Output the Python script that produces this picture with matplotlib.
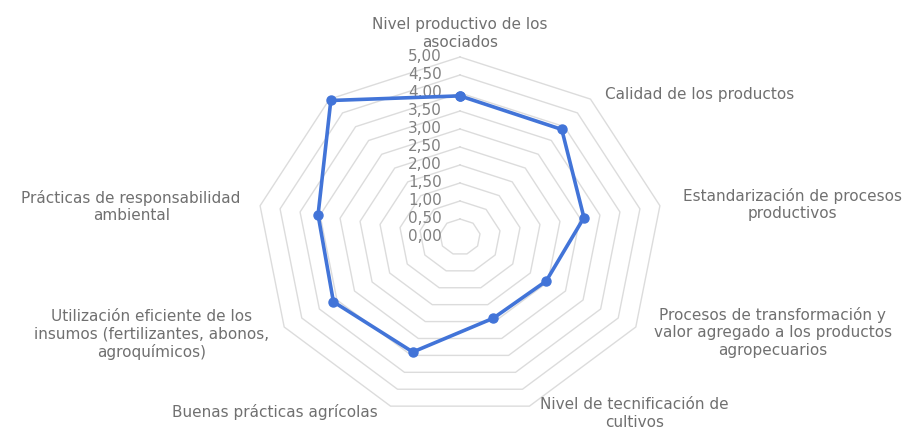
import numpy as np
import matplotlib
matplotlib.use("Agg")
import matplotlib.pyplot as plt

categories = [
    "Nivel productivo de los\nasociados",
    "Calidad de los productos",
    "Estandarización de procesos\nproductivos",
    "Procesos de transformación y\nvalor agregado a los productos\nagropecuarios",
    "Nivel de tecnificación de\ncultivos",
    "Buenas prácticas agrícolas",
    "Utilización eficiente de los\ninsumos (fertilizantes, abonos,\nagroquímicos)",
    "Prácticas de responsabilidad\nambiental",
    "",
]
values = [3.92, 3.90, 3.10, 2.45, 2.40, 3.40, 3.60, 3.55, 4.95]
tick_values = [0.0, 0.5, 1.0, 1.5, 2.0, 2.5, 3.0, 3.5, 4.0, 4.5, 5.0]
tick_labels = ["0,00", "0,50", "1,00", "1,50", "2,00", "2,50", "3,00",
               "3,50", "4,00", "4,50", "5,00"]

# label anchor offsets in chart units (x-units, y-units)
label_pos = [
    (0.0, 5.65), (5.9, 3.95), (8.2, 0.9), (7.7, -2.65), (4.3, -4.9),
    (-4.55, -4.85), (-7.6, -2.7), (-8.1, 0.85), (0, 0),
]

fig = plt.figure(figsize=(9.14, 4.30), dpi=100)
ax = fig.add_axes([0, 0, 1, 1])
sx, sy = 40.6, 36.0
cx, cy = 460, 193
ax.set_xlim(-cx / sx, (914 - cx) / sx)
ax.set_ylim(-cy / sy, (430 - cy) / sy)
ax.axis("off")

n = len(categories)
ang = np.arange(n) * 2 * np.pi / n
sin_a, cos_a = np.sin(ang), np.cos(ang)

# grid rings
for r in tick_values[1:]:
    xs = np.append(r * sin_a, r * sin_a[0])
    ys = np.append(r * cos_a, r * cos_a[0])
    ax.plot(xs, ys, color="#dcdcdc", lw=1.0, zorder=1)

# data
v = np.array(values)
xs = np.append(v * sin_a, v[0] * sin_a[0])
ys = np.append(v * cos_a, v[0] * cos_a[0])
ax.plot(xs, ys, color="#4274d8", lw=2.6, marker="o", ms=6.5, zorder=3,
        solid_joinstyle="round")

# radial tick labels
for tv, tl in zip(tick_values, tick_labels):
    ax.text(-0.45, tv, tl, ha="right", va="center", fontsize=11,
            color="#808080", zorder=2)

# category labels
for lab, (lx, ly) in zip(categories, label_pos):
    if lab:
        ax.text(lx, ly, lab, ha="center", va="center", fontsize=11,
                color="#707070", linespacing=1.2)

fig.savefig("out.png", dpi=100)
